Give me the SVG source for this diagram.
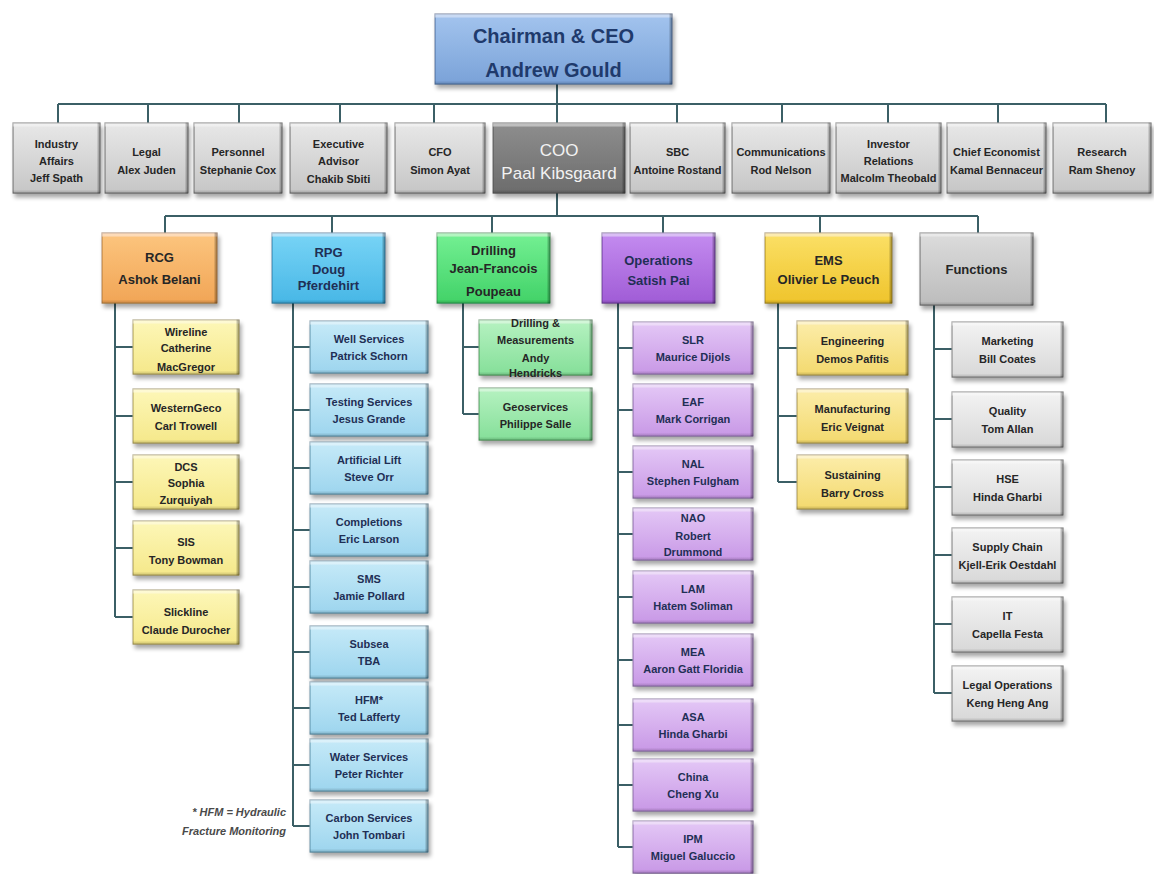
<svg xmlns="http://www.w3.org/2000/svg" width="1154" height="874" viewBox="0 0 1154 874">
<defs>
<filter id="ds" x="-10%" y="-10%" width="125%" height="135%">
<feGaussianBlur in="SourceAlpha" stdDeviation="2" result="bl"/>
<feOffset in="bl" dx="2" dy="4" result="sb"/>
<feComponentTransfer in="sb" result="sh"><feFuncA type="linear" slope="0.35"/></feComponentTransfer>
<feOffset in="SourceAlpha" dx="-3" dy="0" result="oR"/>
<feComposite in="SourceAlpha" in2="oR" operator="out" result="eR"/>
<feFlood flood-color="#000" flood-opacity="0.45"/>
<feComposite in2="eR" operator="in" result="eRc"/>
<feOffset in="SourceAlpha" dx="0" dy="-3" result="oB"/>
<feComposite in="SourceAlpha" in2="oB" operator="out" result="eB"/>
<feFlood flood-color="#000" flood-opacity="0.2"/>
<feComposite in2="eB" operator="in" result="eBc"/>
<feOffset in="SourceAlpha" dx="0" dy="4" result="oT"/>
<feComposite in="SourceAlpha" in2="oT" operator="out" result="eT"/>
<feFlood flood-color="#fff" flood-opacity="0.35"/>
<feComposite in2="eT" operator="in" result="eTc"/>
<feMerge><feMergeNode in="sh"/><feMergeNode in="SourceGraphic"/><feMergeNode in="eTc"/><feMergeNode in="eBc"/><feMergeNode in="eRc"/></feMerge>
</filter>
<linearGradient id="gCEO" x1="0" y1="0" x2="0" y2="1"><stop offset="0" stop-color="#a3c4ee"/><stop offset="1" stop-color="#7aa2d8"/></linearGradient>
<linearGradient id="gGray" x1="0" y1="0" x2="0" y2="1"><stop offset="0" stop-color="#e8e8e8"/><stop offset="1" stop-color="#c6c6c6"/></linearGradient>
<linearGradient id="gCOO" x1="0" y1="0" x2="0" y2="1"><stop offset="0" stop-color="#8e8e8e"/><stop offset="1" stop-color="#6c6c6c"/></linearGradient>
<linearGradient id="gOr" x1="0" y1="0" x2="0" y2="1"><stop offset="0" stop-color="#fcc57e"/><stop offset="1" stop-color="#f1a556"/></linearGradient>
<linearGradient id="gYl" x1="0" y1="0" x2="0" y2="1"><stop offset="0" stop-color="#fdf7b8"/><stop offset="1" stop-color="#f5e88a"/></linearGradient>
<linearGradient id="gBl" x1="0" y1="0" x2="0" y2="1"><stop offset="0" stop-color="#78d4f6"/><stop offset="1" stop-color="#48b7e6"/></linearGradient>
<linearGradient id="gBlL" x1="0" y1="0" x2="0" y2="1"><stop offset="0" stop-color="#c6eaf8"/><stop offset="1" stop-color="#9dd5ee"/></linearGradient>
<linearGradient id="gGr" x1="0" y1="0" x2="0" y2="1"><stop offset="0" stop-color="#74f093"/><stop offset="1" stop-color="#42d268"/></linearGradient>
<linearGradient id="gGrL" x1="0" y1="0" x2="0" y2="1"><stop offset="0" stop-color="#b6f2c1"/><stop offset="1" stop-color="#85df99"/></linearGradient>
<linearGradient id="gPu" x1="0" y1="0" x2="0" y2="1"><stop offset="0" stop-color="#c48cf0"/><stop offset="1" stop-color="#a05cd6"/></linearGradient>
<linearGradient id="gPuL" x1="0" y1="0" x2="0" y2="1"><stop offset="0" stop-color="#e4c8f6"/><stop offset="1" stop-color="#c898e6"/></linearGradient>
<linearGradient id="gGo" x1="0" y1="0" x2="0" y2="1"><stop offset="0" stop-color="#fbe066"/><stop offset="1" stop-color="#efc42c"/></linearGradient>
<linearGradient id="gGoL" x1="0" y1="0" x2="0" y2="1"><stop offset="0" stop-color="#fcedaa"/><stop offset="1" stop-color="#f3d96e"/></linearGradient>
<linearGradient id="gFn" x1="0" y1="0" x2="0" y2="1"><stop offset="0" stop-color="#dcdcdc"/><stop offset="1" stop-color="#bcbcbc"/></linearGradient>
<linearGradient id="gFnL" x1="0" y1="0" x2="0" y2="1"><stop offset="0" stop-color="#f3f3f3"/><stop offset="1" stop-color="#d8d8d8"/></linearGradient>
</defs>
<style>
.c{fill:none;stroke:#3b5f66;stroke-width:2}
.b{filter:url(#ds);stroke-width:1}
.ceo{fill:url(#gCEO);stroke:#4a6c9c}
.gr{fill:url(#gGray);stroke:#6a6a6a}
.coo{fill:url(#gCOO);stroke:#505050}
.or{fill:url(#gOr);stroke:#b07a3a}
.yl{fill:url(#gYl);stroke:#a89a50}
.bl{fill:url(#gBl);stroke:#2f7fa8}
.blL{fill:url(#gBlL);stroke:#5a8fa8}
.gn{fill:url(#gGr);stroke:#2a9a4a}
.gnL{fill:url(#gGrL);stroke:#4a9a5a}
.pu{fill:url(#gPu);stroke:#6a3a9a}
.puL{fill:url(#gPuL);stroke:#8a6aa8}
.go{fill:url(#gGo);stroke:#a88a20}
.goL{fill:url(#gGoL);stroke:#a8944a}
.fn{fill:url(#gFn);stroke:#6a6a6a}
.fnL{fill:url(#gFnL);stroke:#7a7a7a}
.t{font-family:"Liberation Sans",Arial,sans-serif;font-weight:bold;text-anchor:middle;fill:#262626;font-size:11px}
.m{font-size:13px}
.big{font-size:20px;fill:#1f3a6c}
.w{font-size:17px;font-weight:normal;fill:#f2f2f2}
.nv{fill:#1f2f55}
.fnote{font-family:"Liberation Sans",Arial,sans-serif;font-weight:bold;font-style:italic;font-size:11px;fill:#4a4a4a;text-anchor:end}
</style>
<rect width="1154" height="874" fill="#ffffff"/>
<g id="connectors">
<path class="c" d="M557 84V123M557 193V216M58 104H1106M58 104V123M148 104V123M239 104V123M340 104V123M434 104V123M677 104V123M782 104V123M888 104V123M998 104V123M1106 104V123"/>
<path class="c" d="M165 216H978M165 216V233M332 216V233M492 216V233M663 216V233M820 216V233M978 216V233"/>
<path class="c" d="M115 303V617M115 347H133M115 416H133M115 482H133M115 548H133M115 617H133"/>
<path class="c" d="M293 303V826M293 347H310M293 410H310M293 468H310M293 530H310M293 587H310M293 652H310M293 708H310M293 765H310M293 826H310"/>
<path class="c" d="M463 303V414M463 347H479M463 414H479"/>
<path class="c" d="M618 303V847M618 348H633M618 410H633M618 472H633M618 534H633M618 597H633M618 660H633M618 725H633M618 785H633M618 847H633"/>
<path class="c" d="M778 303V482M778 348H797M778 416H797M778 482H797"/>
<path class="c" d="M934 305V693M934 349H952M934 419H952M934 487H952M934 555H952M934 624H952M934 693H952"/>
</g>
<g id="n-ceo"><rect class="b ceo" x="435" y="14" width="237" height="70"/><text class="t big"><tspan x="553.5" y="43">Chairman &amp; CEO</tspan><tspan x="553.5" y="77">Andrew Gould</tspan></text></g>
<g id="n-industry"><rect class="b gr" x="13" y="123" width="87" height="70"/><text class="t"><tspan x="56.5" y="148">Industry</tspan><tspan x="56.5" y="165">Affairs</tspan><tspan x="56.5" y="182">Jeff Spath</tspan></text></g>
<g id="n-legal"><rect class="b gr" x="105" y="123" width="83" height="70"/><text class="t"><tspan x="146.5" y="156">Legal</tspan><tspan x="146.5" y="174">Alex Juden</tspan></text></g>
<g id="n-personnel"><rect class="b gr" x="194" y="123" width="88" height="70"/><text class="t"><tspan x="238" y="156">Personnel</tspan><tspan x="238" y="174">Stephanie Cox</tspan></text></g>
<g id="n-exec"><rect class="b gr" x="290" y="123" width="97" height="70"/><text class="t"><tspan x="338.5" y="148">Executive</tspan><tspan x="338.5" y="165">Advisor</tspan><tspan x="338.5" y="183">Chakib Sbiti</tspan></text></g>
<g id="n-cfo"><rect class="b gr" x="395" y="123" width="90" height="70"/><text class="t"><tspan x="440" y="156">CFO</tspan><tspan x="440" y="174">Simon Ayat</tspan></text></g>
<g id="n-coo"><rect class="b coo" x="493" y="123" width="132" height="70"/><text class="t w"><tspan x="559" y="156">COO</tspan><tspan x="559" y="179">Paal Kibsgaard</tspan></text></g>
<g id="n-sbc"><rect class="b gr" x="630" y="123" width="95" height="70"/><text class="t"><tspan x="677.5" y="156">SBC</tspan><tspan x="677.5" y="174">Antoine Rostand</tspan></text></g>
<g id="n-comm"><rect class="b gr" x="732" y="123" width="98" height="70"/><text class="t"><tspan x="781" y="156">Communications</tspan><tspan x="781" y="174">Rod Nelson</tspan></text></g>
<g id="n-investor"><rect class="b gr" x="836" y="123" width="105" height="70"/><text class="t"><tspan x="888.5" y="148">Investor</tspan><tspan x="888.5" y="165">Relations</tspan><tspan x="888.5" y="182">Malcolm Theobald</tspan></text></g>
<g id="n-economist"><rect class="b gr" x="947" y="123" width="99" height="70"/><text class="t"><tspan x="996.5" y="156">Chief Economist</tspan><tspan x="996.5" y="174">Kamal Bennaceur</tspan></text></g>
<g id="n-research"><rect class="b gr" x="1053" y="123" width="98" height="70"/><text class="t"><tspan x="1102" y="156">Research</tspan><tspan x="1102" y="174">Ram Shenoy</tspan></text></g>
<g id="n-rcg"><rect class="b or" x="102" y="233" width="115" height="70"/><text class="t m"><tspan x="159.5" y="262">RCG</tspan><tspan x="159.5" y="284">Ashok Belani</tspan></text></g>
<g id="n-rpg"><rect class="b bl" x="272" y="233" width="113" height="70"/><text class="t m nv"><tspan x="328.5" y="257">RPG</tspan><tspan x="328.5" y="274">Doug</tspan><tspan x="328.5" y="290">Pferdehirt</tspan></text></g>
<g id="n-drilling"><rect class="b gn" x="437" y="233" width="113" height="70"/><text class="t m"><tspan x="493.5" y="255">Drilling</tspan><tspan x="493.5" y="273">Jean-Francois</tspan><tspan x="493.5" y="296">Poupeau</tspan></text></g>
<g id="n-operations"><rect class="b pu" x="602" y="233" width="113" height="70"/><text class="t m nv"><tspan x="658.5" y="265">Operations</tspan><tspan x="658.5" y="285">Satish Pai</tspan></text></g>
<g id="n-ems"><rect class="b go" x="765" y="233" width="127" height="70"/><text class="t m"><tspan x="828.5" y="265">EMS</tspan><tspan x="828.5" y="284">Olivier Le Peuch</tspan></text></g>
<g id="n-functions"><rect class="b fn" x="920" y="233" width="113" height="72"/><text class="t m"><tspan x="976.5" y="274">Functions</tspan></text></g>
<g id="n-wireline"><rect class="b yl" x="133" y="320" width="106" height="54"/><text class="t"><tspan x="186" y="336">Wireline</tspan><tspan x="186" y="352">Catherine</tspan><tspan x="186" y="371">MacGregor</tspan></text></g>
<g id="n-westerngeco"><rect class="b yl" x="133" y="389" width="106" height="54"/><text class="t"><tspan x="186" y="412">WesternGeco</tspan><tspan x="186" y="430">Carl Trowell</tspan></text></g>
<g id="n-dcs"><rect class="b yl" x="133" y="455" width="106" height="54"/><text class="t"><tspan x="186" y="471">DCS</tspan><tspan x="186" y="487">Sophia</tspan><tspan x="186" y="504">Zurquiyah</tspan></text></g>
<g id="n-sis"><rect class="b yl" x="133" y="521" width="106" height="54"/><text class="t"><tspan x="186" y="546">SIS</tspan><tspan x="186" y="564">Tony Bowman</tspan></text></g>
<g id="n-slickline"><rect class="b yl" x="133" y="590" width="106" height="54"/><text class="t"><tspan x="186" y="616">Slickline</tspan><tspan x="186" y="634">Claude Durocher</tspan></text></g>
<g id="n-well"><rect class="b blL" x="310" y="321" width="118" height="52"/><text class="t nv"><tspan x="369" y="343">Well Services</tspan><tspan x="369" y="360">Patrick Schorn</tspan></text></g>
<g id="n-testing"><rect class="b blL" x="310" y="384" width="118" height="52"/><text class="t nv"><tspan x="369" y="406">Testing Services</tspan><tspan x="369" y="423">Jesus Grande</tspan></text></g>
<g id="n-artlift"><rect class="b blL" x="310" y="442" width="118" height="52"/><text class="t nv"><tspan x="369" y="464">Artificial Lift</tspan><tspan x="369" y="481">Steve Orr</tspan></text></g>
<g id="n-completions"><rect class="b blL" x="310" y="504" width="118" height="52"/><text class="t nv"><tspan x="369" y="526">Completions</tspan><tspan x="369" y="543">Eric Larson</tspan></text></g>
<g id="n-sms"><rect class="b blL" x="310" y="561" width="118" height="52"/><text class="t nv"><tspan x="369" y="583">SMS</tspan><tspan x="369" y="600">Jamie Pollard</tspan></text></g>
<g id="n-subsea"><rect class="b blL" x="310" y="626" width="118" height="52"/><text class="t nv"><tspan x="369" y="648">Subsea</tspan><tspan x="369" y="665">TBA</tspan></text></g>
<g id="n-hfm"><rect class="b blL" x="310" y="682" width="118" height="52"/><text class="t nv"><tspan x="369" y="704">HFM*</tspan><tspan x="369" y="721">Ted Lafferty</tspan></text></g>
<g id="n-water"><rect class="b blL" x="310" y="739" width="118" height="52"/><text class="t nv"><tspan x="369" y="761">Water Services</tspan><tspan x="369" y="778">Peter Richter</tspan></text></g>
<g id="n-carbon"><rect class="b blL" x="310" y="800" width="118" height="52"/><text class="t nv"><tspan x="369" y="822">Carbon Services</tspan><tspan x="369" y="839">John Tombari</tspan></text></g>
<g id="n-dm"><rect class="b gnL" x="479" y="320" width="113" height="55"/><text class="t"><tspan x="535.5" y="327">Drilling &amp;</tspan><tspan x="535.5" y="344">Measurements</tspan><tspan x="535.5" y="362">Andy</tspan><tspan x="535.5" y="377">Hendricks</tspan></text></g>
<g id="n-geoservices"><rect class="b gnL" x="479" y="388" width="113" height="52"/><text class="t"><tspan x="535.5" y="411">Geoservices</tspan><tspan x="535.5" y="428">Philippe Salle</tspan></text></g>
<g id="n-slr"><rect class="b puL" x="633" y="322" width="120" height="52"/><text class="t nv"><tspan x="693" y="344">SLR</tspan><tspan x="693" y="361">Maurice Dijols</tspan></text></g>
<g id="n-eaf"><rect class="b puL" x="633" y="384" width="120" height="52"/><text class="t nv"><tspan x="693" y="406">EAF</tspan><tspan x="693" y="423">Mark Corrigan</tspan></text></g>
<g id="n-nal"><rect class="b puL" x="633" y="446" width="120" height="52"/><text class="t nv"><tspan x="693" y="468">NAL</tspan><tspan x="693" y="485">Stephen Fulgham</tspan></text></g>
<g id="n-nao"><rect class="b puL" x="633" y="508" width="120" height="52"/><text class="t nv"><tspan x="693" y="522">NAO</tspan><tspan x="693" y="540">Robert</tspan><tspan x="693" y="556">Drummond</tspan></text></g>
<g id="n-lam"><rect class="b puL" x="633" y="571" width="120" height="52"/><text class="t nv"><tspan x="693" y="593">LAM</tspan><tspan x="693" y="610">Hatem Soliman</tspan></text></g>
<g id="n-mea"><rect class="b puL" x="633" y="634" width="120" height="52"/><text class="t nv"><tspan x="693" y="656">MEA</tspan><tspan x="693" y="673">Aaron Gatt Floridia</tspan></text></g>
<g id="n-asa"><rect class="b puL" x="633" y="699" width="120" height="52"/><text class="t nv"><tspan x="693" y="721">ASA</tspan><tspan x="693" y="738">Hinda Gharbi</tspan></text></g>
<g id="n-china"><rect class="b puL" x="633" y="759" width="120" height="52"/><text class="t nv"><tspan x="693" y="781">China</tspan><tspan x="693" y="798">Cheng Xu</tspan></text></g>
<g id="n-ipm"><rect class="b puL" x="633" y="821" width="120" height="52"/><text class="t nv"><tspan x="693" y="843">IPM</tspan><tspan x="693" y="860">Miguel Galuccio</tspan></text></g>
<g id="n-engineering"><rect class="b goL" x="797" y="321" width="111" height="54"/><text class="t"><tspan x="852.5" y="345">Engineering</tspan><tspan x="852.5" y="363">Demos Pafitis</tspan></text></g>
<g id="n-manufacturing"><rect class="b goL" x="797" y="389" width="111" height="54"/><text class="t"><tspan x="852.5" y="413">Manufacturing</tspan><tspan x="852.5" y="431">Eric Veignat</tspan></text></g>
<g id="n-sustaining"><rect class="b goL" x="797" y="455" width="111" height="54"/><text class="t"><tspan x="852.5" y="479">Sustaining</tspan><tspan x="852.5" y="497">Barry Cross</tspan></text></g>
<g id="n-marketing"><rect class="b fnL" x="952" y="322" width="111" height="55"/><text class="t"><tspan x="1007.5" y="345">Marketing</tspan><tspan x="1007.5" y="363">Bill Coates</tspan></text></g>
<g id="n-quality"><rect class="b fnL" x="952" y="392" width="111" height="55"/><text class="t"><tspan x="1007.5" y="415">Quality</tspan><tspan x="1007.5" y="433">Tom Allan</tspan></text></g>
<g id="n-hse"><rect class="b fnL" x="952" y="460" width="111" height="55"/><text class="t"><tspan x="1007.5" y="483">HSE</tspan><tspan x="1007.5" y="501">Hinda Gharbi</tspan></text></g>
<g id="n-supply"><rect class="b fnL" x="952" y="528" width="111" height="55"/><text class="t"><tspan x="1007.5" y="551">Supply Chain</tspan><tspan x="1007.5" y="569">Kjell-Erik Oestdahl</tspan></text></g>
<g id="n-it"><rect class="b fnL" x="952" y="597" width="111" height="55"/><text class="t"><tspan x="1007.5" y="620">IT</tspan><tspan x="1007.5" y="638">Capella Festa</tspan></text></g>
<g id="n-legalops"><rect class="b fnL" x="952" y="666" width="111" height="55"/><text class="t"><tspan x="1007.5" y="689">Legal  Operations</tspan><tspan x="1007.5" y="707">Keng Heng Ang</tspan></text></g>
<g id="footnote"><text class="fnote"><tspan x="286" y="816">* HFM = Hydraulic</tspan><tspan x="286" y="835">Fracture Monitoring</tspan></text></g>
</svg>
